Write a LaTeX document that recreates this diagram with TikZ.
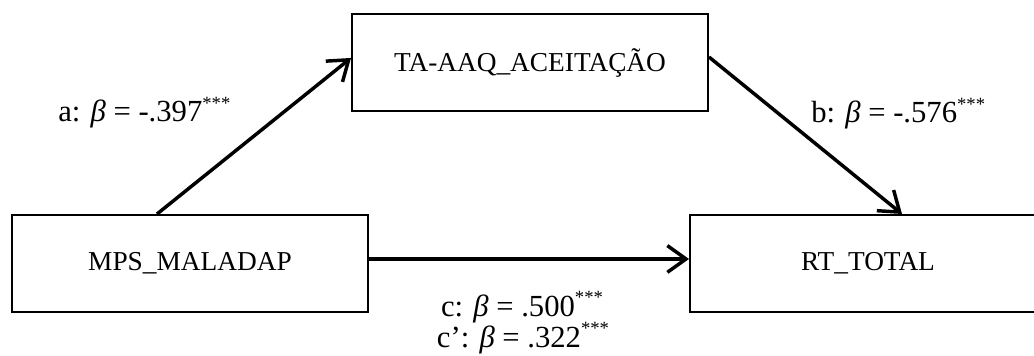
\documentclass[tikz,border=0pt]{standalone}
\usepackage{fontspec}
\setmainfont{Liberation Serif}
\usetikzlibrary{arrows.meta}
\tikzset{
  varbox/.style={draw=black, line width=1.5pt, minimum width=267pt, minimum height=72.75pt, inner sep=0pt, font=\fontsize{20.5}{24}\selectfont},
  arr/.style={line width=2.6pt, -{Straight Barb[length=14pt,width=20pt]}},
  coef/.style={font=\fontsize{23}{27}\selectfont, inner sep=0pt},
}
\newcommand{\sig}{\raisebox{9.5pt}{\fontsize{14}{14}\selectfont ***}}
\begin{document}
\begin{tikzpicture}[x=0.75pt,y=-0.75pt]
\useasboundingbox (0,0) rectangle (1034,356);
\clip (0,0) rectangle (1034,356);
\node[varbox] (mps) at (190,263.5) {MPS\_MALADAP};
\node[varbox] (ta) at (530,62.5) {TA-AAQ\_ACEITAÇÃO};
\node[varbox] (rt) at (868,263.5) {RT\_TOTAL};
\draw[arr] ([xshift=-24.75pt]mps.north) -- ([yshift=3.4pt]ta.west);
\draw[arr] ([yshift=4.1pt]ta.east) -- ([xshift=25.5pt]rt.north);
\draw[arr] ([yshift=3.4pt]mps.east) -- ([yshift=3.4pt]rt.west);
\node[coef, anchor=base west] (la) at (58,122) {a: \textit{β} = -.397\sig};
\node[coef, anchor=base west] (lb) at (811,123) {b: \textit{β} = -.576\sig};
\node[coef, anchor=base] (lc) at (522,316) {c: \textit{β} = .500\sig};
\node[coef, anchor=base] (lc2) at (523,347) {c’: \textit{β} = .322\sig};
\end{tikzpicture}
\end{document}
